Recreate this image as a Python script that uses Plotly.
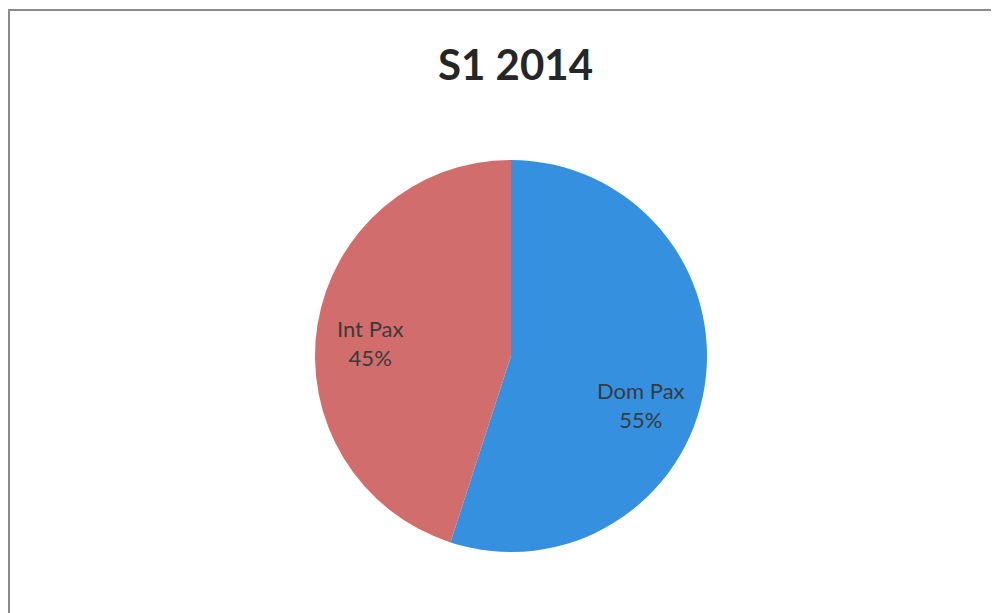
import plotly.graph_objects as go

labels = ["Dom Pax", "Int Pax"]
values = [55, 45]
colors = ["#3590df", "#d26d6d"]
title_text = "S1 2014"

# the page body has an 8px default margin; lay out in window pixels and offset
OFF = 8
W, H = 999 - OFF, 613 - OFF


def px(x):
    return (x - OFF) / W


def py(y):
    return 1 - (y - OFF) / H


cx, cy, r = 511, 356, 196

fig = go.Figure()
fig.add_trace(go.Pie(
    labels=labels, values=values, sort=False, direction="clockwise", rotation=0,
    marker=dict(colors=colors, line=dict(width=0)),
    textinfo="none", hoverinfo="label+percent", showlegend=False,
    domain=dict(x=[px(cx - r), px(cx + r)], y=[py(cy + r), py(cy - r)]),
))

total = sum(values)
label_pos = {"Dom Pax": (641, 405), "Int Pax": (370, 343)}
for lab, val in zip(labels, values):
    lx, ly = label_pos[lab]
    fig.add_annotation(
        x=px(lx), y=py(ly), xref="paper", yref="paper", xanchor="center", yanchor="middle",
        text=f"{lab}<br>{round(100 * val / total)}%", showarrow=False,
        font=dict(family="Lato", size=22, color="#3a3a3a"), align="center",
    )

fig.add_annotation(x=px(515), y=py(64), xref="paper", yref="paper", xanchor="center", yanchor="middle",
                   text=f"<b>{title_text}</b>", showarrow=False,
                   font=dict(family="Lato", size=42, color="#262626"))

fig.add_shape(type="line", xref="paper", yref="paper", x0=px(8), x1=1, y0=py(10), y1=py(10),
              line=dict(color="#8a8a8a", width=2))
fig.add_shape(type="line", xref="paper", yref="paper", x0=px(9), x1=px(9), y0=py(10), y1=0,
              line=dict(color="#8a8a8a", width=2))

fig.update_layout(width=W, height=H, margin=dict(l=0, r=0, t=0, b=0),
                  paper_bgcolor="white", plot_bgcolor="white")
fig.write_html("out.html")
